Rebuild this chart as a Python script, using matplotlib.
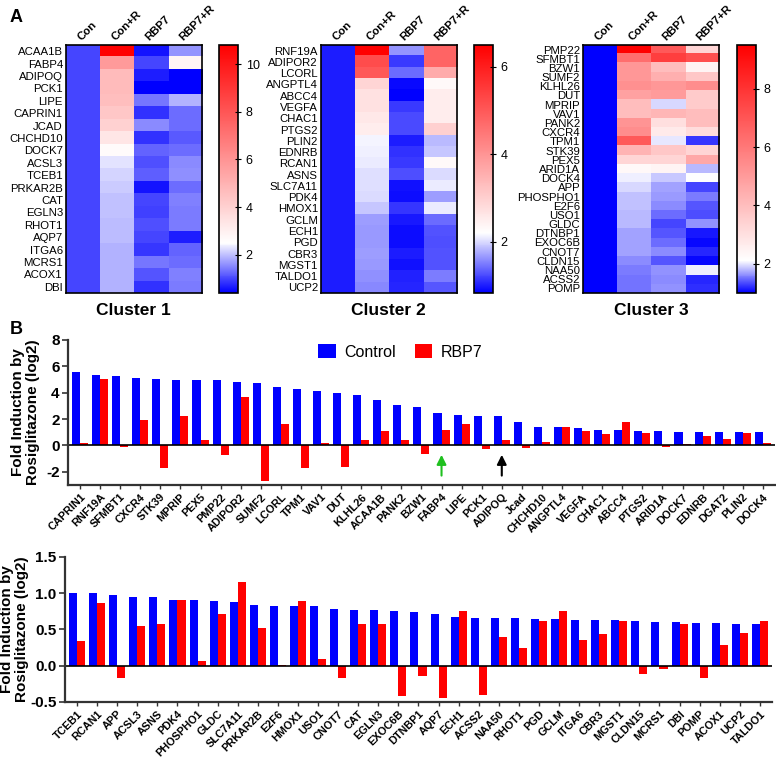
import numpy as np
import matplotlib
matplotlib.use('Agg')
import matplotlib.pyplot as plt
from matplotlib.colors import LinearSegmentedColormap

plt.rcParams['font.family'] = ['Liberation Sans', 'DejaVu Sans']

conds = ['Con', 'Con+R', 'RBP7', 'RBP7+R']

# ---- panel A heatmaps (fold values) ----
c1_genes = ['ACAA1B', 'FABP4', 'ADIPOQ', 'PCK1', 'LIPE', 'CAPRIN1', 'JCAD', 'CHCHD10', 'DOCK7', 'ACSL3',
            'TCEB1', 'PRKAR2B', 'CAT', 'EGLN3', 'RHOT1', 'AQP7', 'ITGA6', 'MCRS1', 'ACOX1', 'DBI']
c1_con = [1.0, 1.0, 1.0, 1.0, 1.0, 1.0, 1.0, 1.0, 1.0, 1.0, 1.0, 1.0, 1.0, 1.0, 1.0, 1.0, 1.0, 1.0, 1.0, 1.0]
c1_conr = [10.8, 5.8, 4.7, 4.7, 4.6, 4.3, 4.0, 3.3, 2.6, 2.3, 2.16, 2.08, 2.0, 2.0, 1.98, 1.97, 1.9, 1.9, 1.9, 1.88]
c1_rbp = [0.57, 0.97, 0.65, 0.4, 1.4, 0.82, 1.55, 0.82, 1.22, 1.06, 1.2, 0.57, 0.97, 0.95, 1.06, 0.97, 0.85, 1.4, 1.1, 0.82]
c1_rbpr = [1.63, 2.8, 0.4, 0.4, 1.87, 1.3, 1.3, 1.15, 1.3, 1.55, 1.58, 1.3, 1.48, 1.45, 1.45, 0.65, 1.22, 1.3, 1.48, 1.45]

c2_genes = ['RNF19A', 'ADIPOR2', 'LCORL', 'ANGPTL4', 'ABCC4', 'VEGFA', 'CHAC1', 'PTGS2', 'PLIN2', 'EDNRB', 'RCAN1',
            'ASNS', 'SLC7A11', 'PDK4', 'HMOX1', 'GCLM', 'ECH1', 'PGD', 'CBR3', 'MGST1', 'TALDO1', 'UCP2']
c2_con = [1.0, 1.0, 1.0, 1.0, 1.0, 1.0, 1.0, 1.0, 1.0, 1.0, 1.0, 1.0, 1.0, 1.0, 1.0, 1.0, 1.0, 1.0, 1.0, 1.0, 1.0, 1.0]
c2_conr = [6.5, 5.2, 5.0, 2.9, 2.7, 2.7, 2.6, 2.5, 2.15, 2.12, 2.1, 2.04, 2.04, 2.02, 1.9, 1.69, 1.65, 1.65, 1.68, 1.65, 1.62, 1.58]
c2_rbp = [1.64, 1.16, 1.42, 0.88, 0.83, 1.16, 1.23, 1.23, 1.0, 1.1, 1.16, 1.26, 0.94, 0.9, 1.13, 0.97, 0.9, 0.9, 1.0, 0.94, 1.02, 1.04]
c2_rbpr = [4.8, 4.8, 3.6, 2.3, 2.5, 2.5, 2.5, 3.0, 1.84, 1.9, 2.3, 2.02, 2.1, 1.69, 2.1, 1.42, 1.28, 1.26, 1.28, 1.28, 1.5, 1.3]

c3_genes = ['PMP22', 'SFMBT1', 'BZW1', 'SUMF2', 'KLHL26', 'DUT', 'MPRIP', 'VAV1', 'PANK2', 'CXCR4', 'TPM1', 'STK39',
            'PEX5', 'ARID1A', 'DOCK4', 'APP', 'PHOSPHO1', 'E2F6', 'USO1', 'GLDC', 'DTNBP1', 'EXOC6B', 'CNOT7',
            'CLDN15', 'NAA50', 'ACSS2', 'POMP']
c3_con = [1.0, 1.0, 1.0, 1.0, 1.0, 1.0, 1.0, 1.0, 1.0, 1.0, 1.0, 1.0, 1.0, 1.0, 1.0, 1.0, 1.0, 1.0, 1.0, 1.0, 1.0,
          1.0, 1.0, 1.0, 1.0, 1.0, 1.0]
c3_conr = [9.5, 6.3, 5.1, 5.1, 5.3, 4.8, 4.0, 4.0, 5.2, 5.4, 6.9, 4.3, 3.3, 2.3, 2.05, 1.95, 1.86, 1.84, 1.82, 1.8,
           1.73, 1.71, 1.71, 1.6, 1.56, 1.52, 1.52]
c3_rbp = [6.9, 7.7, 4.0, 4.4, 5.1, 5.0, 1.95, 4.2, 3.0, 2.7, 2.02, 3.7, 3.3, 2.4, 1.88, 1.73, 1.69, 1.62, 1.48, 1.3,
          1.39, 1.48, 1.6, 1.39, 1.65, 1.6, 1.65]
c3_rbpr = [3.3, 7.2, 2.4, 3.7, 5.4, 3.6, 3.6, 4.0, 4.0, 3.1, 1.26, 3.3, 4.6, 1.82, 2.1, 1.3, 1.56, 1.39, 1.35, 1.65,
           1.13, 1.04, 1.17, 1.06, 2.05, 1.17, 1.22]

# ---- panel B bars (log2 fold induction) ----
top_genes = ['CAPRIN1', 'RNF19A', 'SFMBT1', 'CXCR4', 'STK39', 'MPRIP', 'PEX5', 'PMP22', 'ADIPOR2', 'SUMF2', 'LCORL',
             'TPM1', 'VAV1', 'DUT', 'KLHL26', 'ACAA1B', 'PANK2', 'BZW1', 'FABP4', 'LIPE', 'PCK1', 'ADIPOQ', 'Jcad',
             'CHCHD10', 'ANGPTL4', 'VEGFA', 'CHAC1', 'ABCC4', 'PTGS2', 'ARID1A', 'DOCK7', 'EDNRB', 'DGAT2', 'PLIN2',
             'DOCK4']
top_ctrl = [5.56, 5.33, 5.3, 5.15, 5.05, 5.0, 4.97, 4.95, 4.8, 4.7, 4.42, 4.27, 4.14, 4.01, 3.86, 3.46, 3.05, 2.88,
            2.45, 2.3, 2.25, 2.22, 1.77, 1.36, 1.36, 1.31, 1.19, 1.19, 1.11, 1.11, 1.04, 1.04, 1.04, 1.01, 1.01]
top_rbp = [0.18, 5.03, -0.15, 1.92, -1.69, 2.2, 0.43, -0.7, 3.64, -2.73, 1.64, -1.68, 0.2, -1.64, 0.38, 1.08, 0.43,
           -0.63, 1.14, 1.64, -0.25, 0.43, -0.2, 0.23, 1.36, 1.06, 0.88, 1.79, 0.98, -0.15, 0.13, 0.68, 0.45, 0.91, 0.2]

bot_genes = ['TCEB1', 'RCAN1', 'APP', 'ACSL3', 'ASNS', 'PDK4', 'PHOSPHO1', 'GLDC', 'SLC7A11', 'PRKAR2B', 'E2F6',
             'HMOX1', 'USO1', 'CNOT7', 'CAT', 'EGLN3', 'EXOC6B', 'DTNBP1', 'AQP7', 'ECH1', 'ACSS2', 'NAA50', 'RHOT1',
             'PGD', 'GCLM', 'ITGA6', 'CBR3', 'MGST1', 'CLDN15', 'MCRS1', 'DBI', 'POMP', 'ACOX1', 'UCP2', 'TALDO1']
bot_ctrl = [1.01, 1.0, 0.97, 0.95, 0.945, 0.91, 0.9, 0.89, 0.885, 0.84, 0.83, 0.83, 0.82, 0.78, 0.775, 0.765, 0.76,
            0.74, 0.71, 0.67, 0.66, 0.66, 0.655, 0.645, 0.645, 0.635, 0.635, 0.625, 0.62, 0.6, 0.6, 0.59, 0.59, 0.58, 0.58]
bot_rbp = [0.34, 0.87, -0.175, 0.55, 0.58, 0.91, 0.06, 0.71, 1.16, 0.52, 0.01, 0.89, 0.09, -0.175, 0.57, 0.57, -0.42,
           -0.14, -0.44, 0.75, -0.4, 0.39, 0.245, 0.62, 0.75, 0.36, 0.44, 0.62, -0.11, -0.05, 0.58, -0.175, 0.29,
           0.455, 0.62]

fig = plt.figure(figsize=(7.76, 7.58), dpi=100)


def heat(left, cleft, genes, cols, vmin, vmid, vmax, ticks, title):
    ax = fig.add_axes([left, 0.6135, 0.1753, 0.3272])
    cax = fig.add_axes([cleft, 0.6135, 0.0245, 0.3272])
    data = np.column_stack(cols)
    f = (vmid - vmin) / (vmax - vmin)
    cmap = LinearSegmentedColormap.from_list('bwr2', [(0, '#0000ff'), (f, '#ffffff'), (1, '#ff0000')])
    im = ax.imshow(data, aspect='auto', cmap=cmap, vmin=vmin, vmax=vmax, interpolation='nearest')
    ax.set_yticks(range(len(genes)))
    ax.set_yticklabels(genes, fontsize=8.2)
    ax.tick_params(axis='y', length=0, pad=2)
    ax.xaxis.tick_top()
    ax.set_xticks(range(4))
    ax.set_xticklabels(conds, rotation=45, ha='left', rotation_mode='anchor', fontsize=8.2, fontweight='bold')
    ax.tick_params(axis='x', length=0, pad=2)
    for s in ax.spines.values():
        s.set_linewidth(1.2)
    cb = fig.colorbar(im, cax=cax, ticks=ticks)
    cb.ax.tick_params(labelsize=9, length=4, direction='inout', width=0.8)
    cb.outline.set_linewidth(1.2)
    fig.text(left + 0.1753 / 2, 0.591, title, ha='center', va='center', fontsize=12.5, fontweight='bold')


heat(0.0847, 0.2822, c1_genes, [c1_con, c1_conr, c1_rbp, c1_rbpr], 0.4, 2.5, 10.8, [2, 4, 6, 8, 10], 'Cluster 1')
heat(0.4133, 0.6108, c2_genes, [c2_con, c2_conr, c2_rbp, c2_rbpr], 0.83, 2.2, 6.5, [2, 4, 6], 'Cluster 2')
heat(0.7513, 0.9497, c3_genes, [c3_con, c3_conr, c3_rbp, c3_rbpr], 1.0, 2.1, 9.5, [2, 4, 6, 8], 'Cluster 3')

fig.text(0.012, 0.988, 'A', fontsize=13, fontweight='bold', va='top')
fig.text(0.012, 0.577, 'B', fontsize=13, fontweight='bold', va='top')


def bars(rect, genes, ctrl, rbp, ylim, yticks, fmt, labx):
    ax = fig.add_axes(rect)
    x = np.arange(len(genes))
    ax.bar(x - 0.2, ctrl, 0.4, color='#0000ff', label='Control')
    ax.bar(x + 0.2, rbp, 0.4, color='#ff0000', label='RBP7')
    ax.axhline(0, color='black', lw=1.2)
    ax.set_xlim(-0.6, len(genes) - 0.4)
    ax.set_ylim(*ylim)
    ax.set_yticks(yticks)
    ax.set_yticklabels([fmt % v for v in yticks], fontsize=11, fontweight='bold')
    ax.set_xticks(x)
    ax.set_xticklabels(genes, rotation=45, ha='right', rotation_mode='anchor', fontsize=7.8, fontweight='bold')
    ax.tick_params(axis='x', length=3, width=1, pad=2, color='#333333')
    ax.tick_params(axis='y', length=4, width=1.2, pad=2, color='#333333')
    for s in ['top', 'right']:
        ax.spines[s].set_visible(False)
    for s in ['left', 'bottom']:
        ax.spines[s].set_linewidth(1.6)
        ax.spines[s].set_color('#333333')
    ax.set_ylabel('Fold Induction by\nRosiglitazone (log2)', fontsize=11, fontweight='bold', linespacing=1.05)
    ax.yaxis.set_label_coords(labx, 0.5)
    return ax


ax1 = bars([0.0876, 0.3602, 0.911, 0.1913], top_genes, top_ctrl, top_rbp, (-3, 8), [-2, 0, 2, 4, 6, 8], '%d', -0.04)
ax1.legend(loc='upper center', bbox_to_anchor=(0.47, 1.07), ncol=2, frameon=False, fontsize=11.5,
           handlelength=1.1, handleheight=1.0, columnspacing=1.2, handletextpad=0.5)
ax1.annotate('', xy=(top_genes.index('FABP4'), -0.5), xytext=(top_genes.index('FABP4'), -2.5),
             arrowprops=dict(arrowstyle='-|>', color='#1fc01f', lw=1.5, mutation_scale=14))
ax1.annotate('', xy=(top_genes.index('ADIPOQ'), -0.5), xytext=(top_genes.index('ADIPOQ'), -2.5),
             arrowprops=dict(arrowstyle='-|>', color='black', lw=1.5, mutation_scale=14))

bars([0.0838, 0.0739, 0.911, 0.1913], bot_genes, bot_ctrl, bot_rbp, (-0.5, 1.5), [-0.5, 0.0, 0.5, 1.0, 1.5], '%.1f',
     -0.051)

fig.savefig('out.png', dpi=100)
